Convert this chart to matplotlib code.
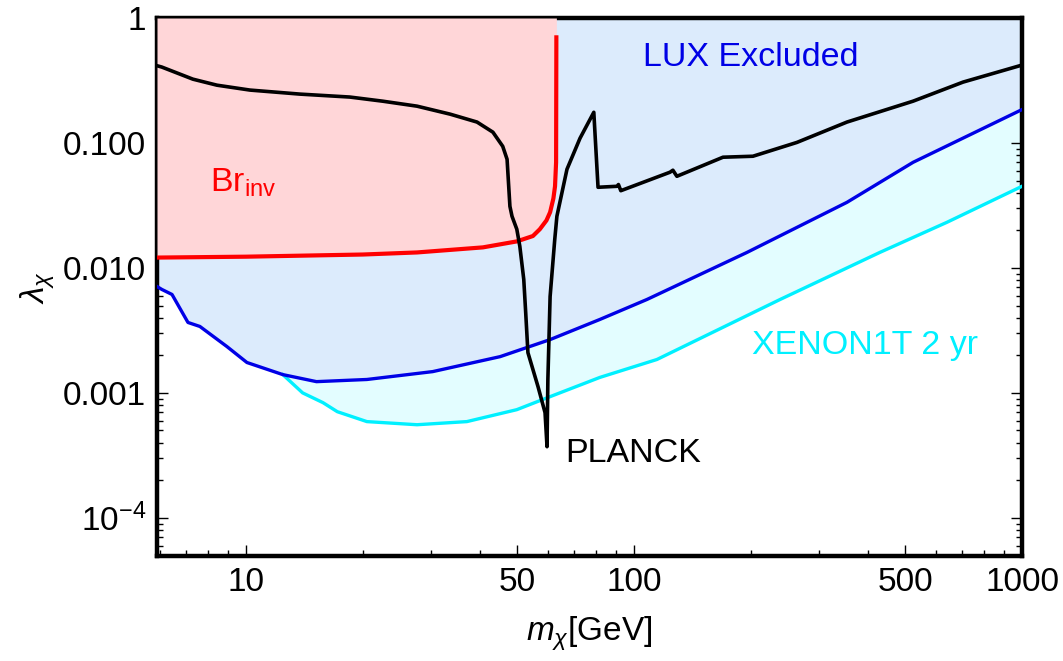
import matplotlib
matplotlib.use("Agg")
import matplotlib.pyplot as plt
from matplotlib.ticker import FixedLocator, LogLocator, NullFormatter

plt.rcParams["font.family"] = ["Liberation Sans", "DejaVu Sans"]
plt.rcParams["mathtext.fontset"] = "custom"
plt.rcParams["mathtext.rm"] = "Liberation Sans"
plt.rcParams["mathtext.it"] = "Liberation Sans:italic"
plt.rcParams["mathtext.bf"] = "Liberation Sans:bold"

# invisible Higgs width bound (red)
br_mass = [5.9, 10, 20, 27.6, 40.8, 49.9, 54.9, 57.2, 59.5, 60.8, 62.0, 62.6,
           63.0, 63.1]
br_lam = [0.0121, 0.0123, 0.0128, 0.0133, 0.0146, 0.0163, 0.0180, 0.0204,
          0.0240, 0.0279, 0.036, 0.045, 0.07, 0.70]

# LUX exclusion (blue)
lux_mass = [5.9, 6.07, 6.45, 7.09, 7.61, 8.93, 10.06, 12.45, 15.2, 20.5, 30.3,
            45.2, 60.8, 81.7, 108, 195.5, 354, 524, 1000]
lux_lam = [0.0071, 0.00673, 0.00613, 0.00366, 0.0034, 0.00235, 0.00175,
           0.0014, 0.00123, 0.00128, 0.00148, 0.00195, 0.00267, 0.00387,
           0.00559, 0.0133, 0.0335, 0.070, 0.185]

# XENON1T 2 yr projection (cyan)
xenon_mass = [12.45, 14.0, 15.8, 17.2, 20.5, 27.6, 37.1, 49.9, 60.8, 81.7,
              114.6, 238, 430, 641, 1000]
xenon_lam = [0.0014, 0.001, 0.000835, 0.000707, 0.000589, 0.000556,
             0.000589, 0.000734, 0.000933, 0.00133, 0.00185, 0.00559,
             0.0133, 0.0232, 0.045]

# relic density (PLANCK, black)
planck_mass = [5.9, 6.07, 7.30, 8.42, 10.24, 13.78, 18.53, 22.5, 27.6, 33.6,
               39.4, 43.3, 45.9, 47.1, 47.9, 48.5, 49.9, 50.8, 52.0, 52.6,
               53.3, 56.6, 59.0, 59.7, 60.0, 60.8, 62.5, 63.3, 67.2, 72.6,
               78.8, 80.8, 90.4, 91.2, 92.5, 93.1, 123.8, 126, 129, 169.6,
               202.6, 263, 354, 524, 705, 1000]
planck_lam = [0.415, 0.405, 0.324, 0.290, 0.265, 0.246, 0.233, 0.216, 0.197,
              0.170, 0.147, 0.122, 0.094, 0.074, 0.0311, 0.0259, 0.0204,
              0.0149, 0.0081, 0.0044, 0.0021, 0.00112, 0.000695, 0.000371,
              0.00128, 0.0059, 0.0169, 0.0259, 0.0616, 0.109, 0.176, 0.0442,
              0.045, 0.0465, 0.0415, 0.0418, 0.0583, 0.0605, 0.0541, 0.0769,
              0.0783, 0.101, 0.147, 0.216, 0.307, 0.42]

x_ticks = [10, 50, 100, 500, 1000]
x_labels = ["10", "50", "100", "500", "1000"]
y_ticks = [1e-4, 1e-3, 1e-2, 1e-1, 1]
y_labels = [r"$\mathregular{10^{-4}}$", "0.001", "0.010", "0.100", "1"]

fig = plt.figure(figsize=(10.63, 6.61), dpi=100)
ax = fig.add_axes([157 / 1063, 1 - 556 / 661, 865 / 1063, 538 / 661])

ax.fill_between(xenon_mass, xenon_lam, 1, color="#e3fdff", lw=0, zorder=1)
ax.fill_between(lux_mass, lux_lam, 1, color="#dcebfc", lw=0, zorder=2)
ax.fill_between(br_mass, br_lam, 1, color="#ffd6d8", lw=0, zorder=3)

ax.plot(xenon_mass, xenon_lam, color="#00f0ff", lw=2.4, zorder=4)
ax.plot(lux_mass, lux_lam, color="#0000e6", lw=2.4, zorder=5)
ax.plot(br_mass, br_lam, color="#ff0000", lw=3, zorder=6)
ax.plot(planck_mass, planck_lam, color="black", lw=2.6, zorder=7)

ax.text(8.08, 0.041, r"Br$_{\mathregular{inv}}$", color="#ff0000",
        fontsize=24.5, va="baseline", ha="left", zorder=8)
ax.text(105.5, 0.412, "LUX Excluded", color="#0000e6", fontsize=24.5,
        va="baseline", ha="left", zorder=8)
ax.text(201, 0.00203, "XENON1T 2 yr", color="#00f0ff", fontsize=24.5,
        va="baseline", ha="left", zorder=8)
ax.text(66.4, 0.000281, "PLANCK", color="black", fontsize=24.5,
        va="baseline", ha="left", zorder=8)

ax.set_xscale("log")
ax.set_yscale("log")
ax.set_xlim(5.9, 1000)
ax.set_ylim(4.95e-5, 1)

ax.xaxis.set_major_locator(FixedLocator(x_ticks))
ax.xaxis.set_minor_locator(LogLocator(base=10, subs=range(2, 10)))
ax.xaxis.set_minor_formatter(NullFormatter())
ax.set_xticklabels(x_labels)
ax.yaxis.set_major_locator(FixedLocator(y_ticks))
ax.yaxis.set_minor_locator(LogLocator(base=10, subs=range(2, 10)))
ax.yaxis.set_minor_formatter(NullFormatter())
ax.set_yticklabels(y_labels)

ax.tick_params(which="both", direction="in", top=True, right=True,
               labelsize=24, width=1)
ax.tick_params(which="major", length=8, pad=8)
ax.tick_params(which="minor", length=4)
for sp in ax.spines.values():
    sp.set_linewidth(3.2)

ax.set_xlabel(r"$m_\chi$[GeV]", fontsize=24, labelpad=12)
ax.set_ylabel(r"$\lambda_\chi$", fontsize=24, labelpad=4)

fig.savefig("out.png", dpi=100)
